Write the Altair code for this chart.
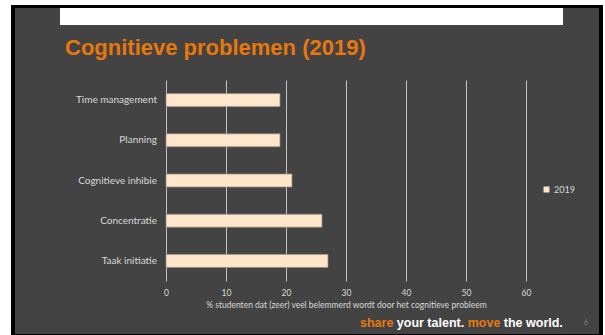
import altair as alt
import pandas as pd

# ---- data ----
categories = ["Time management", "Planning", "Cognitieve inhibie", "Concentratie", "Taak initiatie"]
values = [19, 19, 21, 26, 27]
series_name = "2019"
x_ticks = [0, 10, 20, 30, 40, 50, 60]
title_text = "Cognitieve problemen (2019)"
x_title = "% studenten dat (zeer) veel belemmerd wordt door het cognitieve probleem"
footer_parts = ["share", "your talent.", "move", "the world."]
page_number = "6"

df = pd.DataFrame({
    "categorie": categories,
    "waarde": values,
    "jaar": [series_name] * len(categories),
})

# ---- layout (page pixels) ----
OX, OY = 166, 80      # plot origin
W, H = 360, 201       # plot size
PW, PH = 605, 335     # page size

BG = "#434343"
ORANGE = "#E8780C"
LABEL = "#D9D9D9"
BAR = "#FFE5C9"


def px(x):
    return x - OX


def py(y):
    return y - OY


one = alt.Data(values=[{}])


def rect(x1, x2, y1, y2, color):
    return alt.Chart(one).mark_rect(color=color).encode(
        x=alt.value(px(x1)), x2=alt.value(px(x2)),
        y=alt.value(py(y1)), y2=alt.value(py(y2)),
    )


def text(s, x, y, size, color, font="Liberation Sans", weight="bold", align="left", baseline="alphabetic"):
    return alt.Chart(one).mark_text(
        text=s, font=font, fontSize=size, fontWeight=weight, color=color,
        align=align, baseline=baseline,
    ).encode(x=alt.value(px(x)), y=alt.value(py(y)))


decor = [
    rect(0, 11, 0, PH, "white"),
    rect(0, PW, 0, 5, "white"),
    rect(603, PW, 0, PH, "white"),
    rect(11, 15, 5, PH, "black"),
    rect(11, 603, 5, 8, "black"),
    rect(599, 603, 5, PH, "black"),
    rect(11, 603, 334, PH, "black"),
    rect(60, 563, 8, 25, "white"),
]

bars = alt.Chart(df).mark_bar(stroke="#8f8a84", strokeWidth=0.75).encode(
    x=alt.X(
        "waarde:Q",
        scale=alt.Scale(domain=[0, 60], nice=False, zero=True),
        axis=alt.Axis(
            values=x_ticks, grid=True, gridColor="#C4C4C4", gridWidth=1,
            ticks=False, domain=False, labelFlush=False,
            labelColor=LABEL, labelFont="Lato", labelFontSize=8.5, labelPadding=7,
            title=x_title, titleColor=LABEL, titleFont="Lato", titleFontSize=8.5,
            titleFontWeight="normal", titlePadding=4,
        ),
    ),
    y=alt.Y(
        "categorie:N", sort=categories,
        scale=alt.Scale(paddingInner=0.675, paddingOuter=0.3375),
        axis=alt.Axis(
            title=None, ticks=False, domain=False, grid=False,
            labelColor=LABEL, labelFont="Lato", labelFontSize=10, labelPadding=9.5,
        ),
    ),
    color=alt.Color(
        "jaar:N",
        scale=alt.Scale(domain=[series_name], range=[BAR]),
        legend=alt.Legend(
            title=None, orient="none", legendX=px(542), legendY=py(185),
            symbolType="square", symbolSize=36, symbolStrokeWidth=0,
            labelColor=LABEL, labelFont="Lato", labelFontSize=9, labelOffset=3,
        ),
    ),
)

footer_x = [360, 396.8, 467.7, 503.8]
footer_c = [ORANGE, "white", ORANGE, "white"]
texts = [text(title_text, 65, 55, 22, ORANGE)]
for s, x, c in zip(footer_parts, footer_x, footer_c):
    texts.append(text(s, x, 327, 12.5, c))
texts.append(text(page_number, 586, 323, 7, "#808080", font="Lato", weight="normal", align="center", baseline="middle"))

chart = alt.layer(*decor, bars, *texts).properties(
    width=W, height=H,
    background=BG,
    padding={"left": OX, "top": OY, "right": PW - OX - W, "bottom": PH - OY - H},
    autosize=alt.AutoSizeParams(type="none"),
).configure_view(stroke="transparent")

chart.save("out.html", embed_options={"renderer": "svg", "actions": False})
